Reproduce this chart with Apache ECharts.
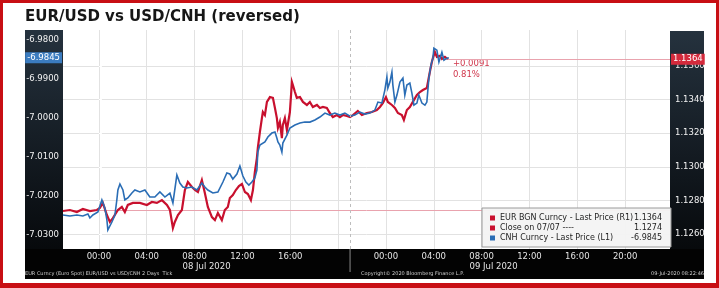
<!DOCTYPE html>
<html><head><meta charset="utf-8">
<script src="https://cdn.jsdelivr.net/npm/echarts@6/dist/echarts.min.js"></script>
<style>html,body{margin:0;padding:0;background:#fff}#c{width:719px;height:288px}</style>
</head><body><div id="c"></div>
<script>
// ---- DATA (hours relative to 08 Jul 2020 00:00) ----
const eurHours = [-3.0,-2.42,-1.84,-1.34,-0.75,-0.17,0.08,0.33,0.67,0.92,1.17,1.59,1.92,2.17,2.42,2.84,3.43,4.01,4.43,4.85,5.27,5.69,5.94,6.19,6.35,6.61,6.94,7.19,7.44,7.78,8.03,8.28,8.61,8.86,9.11,9.45,9.70,9.95,10.28,10.53,10.78,10.95,11.20,11.45,11.71,11.96,12.21,12.46,12.71,12.88,13.04,13.21,13.29,13.46,13.63,13.71,13.88,14.05,14.30,14.55,14.72,14.88,14.97,15.13,15.30,15.38,15.55,15.72,15.97,16.14,16.22,16.39,16.55,16.81,17.06,17.39,17.64,17.89,18.23,18.48,18.73,19.06,19.31,19.56,19.90,20.15,20.40,20.74,20.99,21.24,21.65,21.99,22.41,22.83,23.24,23.50,23.75,24.00,24.16,24.50,24.75,25.00,25.33,25.50,25.75,26.00,26.25,26.59,26.84,27.09,27.42,27.51,27.67,27.84,27.93,28.09,28.26,28.34,28.51,28.68,28.93,29.18];
const eurValues = [1.12737,1.12743,1.12731,1.12749,1.12737,1.12743,1.12755,1.12785,1.12713,1.12672,1.12695,1.12743,1.12761,1.12731,1.12773,1.12785,1.12785,1.12773,1.12791,1.12785,1.12802,1.12773,1.12743,1.12636,1.12672,1.12713,1.12743,1.12862,1.12910,1.12880,1.12862,1.12850,1.12921,1.12844,1.12761,1.12701,1.12683,1.12725,1.12683,1.12743,1.12761,1.12814,1.12832,1.12862,1.12886,1.12898,1.12850,1.12838,1.12802,1.12862,1.12969,1.13052,1.13112,1.13207,1.13290,1.13326,1.13308,1.13386,1.13415,1.13410,1.13350,1.13290,1.13231,1.13267,1.13171,1.13249,1.13290,1.13219,1.13326,1.13505,1.13487,1.13445,1.13410,1.13415,1.13386,1.13368,1.13386,1.13356,1.13368,1.13350,1.13356,1.13350,1.13320,1.13296,1.13308,1.13296,1.13308,1.13302,1.13296,1.13308,1.13332,1.13308,1.13320,1.13326,1.13338,1.13356,1.13380,1.13415,1.13386,1.13368,1.13350,1.13320,1.13308,1.13279,1.13338,1.13356,1.13386,1.13427,1.13445,1.13457,1.13469,1.13469,1.13564,1.13624,1.13648,1.13683,1.13654,1.13648,1.13660,1.13642,1.13654,1.13640];
const cnhHours = [-3.0,-2.42,-1.84,-1.34,-0.92,-0.75,-0.50,-0.08,0.25,0.50,0.67,0.75,1.09,1.34,1.50,1.59,1.76,1.92,2.01,2.17,2.42,2.76,3.01,3.43,3.85,4.26,4.68,5.10,5.52,5.94,6.19,6.52,6.77,7.02,7.36,7.78,8.19,8.61,8.86,9.11,9.53,9.95,10.37,10.70,10.95,11.20,11.54,11.79,12.04,12.29,12.54,12.79,13.04,13.21,13.29,13.46,13.88,14.13,14.46,14.72,14.88,14.97,15.13,15.30,15.38,15.72,15.97,16.39,16.81,17.22,17.64,18.06,18.48,18.90,19.31,19.73,20.15,20.57,20.99,21.40,21.82,22.24,22.66,23.08,23.33,23.66,23.91,24.08,24.16,24.33,24.50,24.58,24.75,24.92,25.17,25.42,25.58,25.75,26.00,26.17,26.34,26.59,26.75,27.01,27.26,27.42,27.59,27.76,27.93,28.01,28.26,28.43,28.68,28.85,29.10,29.26];
const cnhValues = [-7.02487,-7.02513,-7.02487,-7.02513,-7.02462,-7.02564,-7.02487,-7.02410,-7.02103,-7.02308,-7.02615,-7.02872,-7.02667,-7.02487,-7.02103,-7.01846,-7.01692,-7.01667,-7.01846,-7.02103,-7.02051,-7.01923,-7.01846,-7.01897,-7.01846,-7.02026,-7.02026,-7.01897,-7.02026,-7.01923,-7.02179,-7.01462,-7.01667,-7.01769,-7.01795,-7.01769,-7.01846,-7.01667,-7.01769,-7.01846,-7.01923,-7.01897,-7.01641,-7.01410,-7.01436,-7.01564,-7.01436,-7.01231,-7.01487,-7.01641,-7.01718,-7.01641,-7.01538,-7.01333,-7.00872,-7.00692,-7.00615,-7.00487,-7.00385,-7.00359,-7.00513,-7.00615,-7.00692,-7.00872,-7.00641,-7.00436,-7.00256,-7.00179,-7.00128,-7.00103,-7.00103,-7.00051,-6.99974,-6.99872,-6.99923,-6.99872,-6.99923,-6.99872,-6.99949,-6.99923,-6.99846,-6.99897,-6.99872,-6.99795,-6.99590,-6.99615,-6.99282,-6.98949,-6.99231,-6.99077,-6.98821,-6.99154,-6.99590,-6.99410,-6.99077,-6.98974,-6.99410,-6.99154,-6.99103,-6.99359,-6.99667,-6.99615,-6.99410,-6.99615,-6.99667,-6.99590,-6.98974,-6.98641,-6.98462,-6.98205,-6.98256,-6.98564,-6.98308,-6.98513,-6.98462,-6.98450];
const closeValue = 1.1274;
const gridHours = [0,4,8,12,16,20,24,28,32,36,40,44];
const timeLabelHours = [0,4,8,12,16,24,28,32,36,40,44];
const dateLabelHours = [9,33];
const dateLabels = ['08 Jul 2020','09 Jul 2020'];
const dayBreakHour = 21;
const leftTicks = [-7.03,-7.02,-7.01,-7.00,-6.99,-6.98];
const rightTicks = [1.126,1.128,1.130,1.132,1.134,1.136];
const seriesNames = ['EUR BGN Curncy - Last Price (R1)','Close on 07/07 ----','CNH Curncy - Last Price (L1)'];
const changeText = ['+0.0091','0.81%'];
const titleText = 'EUR/USD vs USD/CNH (reversed)';
const footnotes = ['EUR Curncy (Euro Spot) EUR/USD vs USD/CNH 2 Days  Tick','Copyright\u00A9 2020 Bloomberg Finance L.P.','09-Jul-2020 08:22:46'];

// ---- CHART ----
const FONT = 'DejaVu Sans';
const RED = '#c8102e', BLUE = '#2a6db5';
const xMin = -3, xMax = 47.75;
const lastEur = eurValues[eurValues.length-1];
const lastCnh = cnhValues[cnhValues.length-1];
const lastEurHour = eurHours[eurHours.length-1];
const lastCnhHour = cnhHours[cnhHours.length-1];
const legendValues = {};
legendValues[seriesNames[0]] = lastEur.toFixed(4);
legendValues[seriesNames[1]] = closeValue.toFixed(4);
legendValues[seriesNames[2]] = lastCnh.toFixed(4);

const panelFill = {type:'linear',x:0,y:0,x2:0,y2:1,colorStops:[{offset:0,color:'#25323e'},{offset:0.6,color:'#10161c'},{offset:1,color:'#030405'}]};

const chart = echarts.init(document.getElementById('c'), null, {renderer:'canvas'});
chart.setOption({
  animation:false,
  backgroundColor:'#fff',
  title:{text:titleText,left:25,top:10,padding:0,textStyle:{fontFamily:FONT,fontSize:15,fontWeight:'bold',color:'#161616'}},
  grid:{left:63,right:49,top:30,bottom:39,show:true,backgroundColor:'#fff',borderWidth:0},
  xAxis:[
    {type:'value',min:xMin,max:xMax,position:'bottom',axisLine:{show:false},
     axisTick:{show:false,customValues:gridHours},
     splitLine:{show:true,lineStyle:{color:'#e2e2e2',width:1}},
     axisLabel:{customValues:timeLabelHours,margin:3,color:'#e4e4e4',fontFamily:FONT,fontSize:8.5,
       formatter:v=>{const h=((v%24)+24)%24;return (h<10?'0':'')+h+':00';}}},
    {type:'value',min:xMin,max:xMax,position:'bottom',axisLine:{show:false},axisTick:{show:false},splitLine:{show:false},
     axisLabel:{customValues:dateLabelHours,margin:13,color:'#e4e4e4',fontFamily:FONT,fontSize:8.5,
       formatter:v=>dateLabels[dateLabelHours.indexOf(v)]||''}}
  ],
  yAxis:[
    {type:'value',min:-7.0336,max:-6.9774,position:'left',axisLine:{show:false},
     axisTick:{show:true,customValues:leftTicks,length:3,lineStyle:{color:'#ffffff'}},
     splitLine:{show:false},
     axisLabel:{customValues:leftTicks,formatter:v=>v.toFixed(4),color:'#f2f2f2',fontFamily:FONT,fontSize:8.5,margin:4}},
    {type:'value',min:1.12511,max:1.13814,position:'right',axisLine:{show:false},
     axisTick:{show:true,customValues:rightTicks,length:3,lineStyle:{color:'#ffffff'}},
     splitLine:{show:true,lineStyle:{color:'#e2e2e2',width:1}},
     axisLabel:{customValues:rightTicks,formatter:v=>v.toFixed(4),color:'#f2f2f2',fontFamily:FONT,fontSize:8.5,margin:5}}
  ],
  legend:{orient:'vertical',left:482,top:208,padding:[5,9,4,8],itemGap:0,itemWidth:5,itemHeight:5,icon:'rect',
    selectedMode:false,backgroundColor:'rgba(244,244,244,0.96)',borderColor:'#9a9a9a',borderWidth:1,
    data:[{name:seriesNames[0],itemStyle:{color:RED}},{name:seriesNames[1],itemStyle:{color:RED}},{name:seriesNames[2],itemStyle:{color:BLUE}}],
    formatter:name=>'{n|'+name+'}{v|'+legendValues[name]+'}',
    textStyle:{fontFamily:FONT,fontSize:8,color:'#1e1e1e',lineHeight:10,
      rich:{n:{width:134,fontFamily:FONT,fontSize:8,color:'#1e1e1e',lineHeight:10},
            v:{width:28,align:'right',fontFamily:FONT,fontSize:8,color:'#1e1e1e',lineHeight:10}}}},
  series:[
    {name:seriesNames[1],type:'line',xAxisIndex:0,yAxisIndex:1,symbol:'none',z:2,silent:true,
     data:[[xMin,closeValue],[xMax,closeValue]],lineStyle:{color:'#e9a3ae',width:1},itemStyle:{color:RED},
     markLine:{silent:true,symbol:'none',label:{show:false},
       lineStyle:{color:'#bdbdbd',width:1,type:[3,3]},data:[{xAxis:dayBreakHour}]}},
    {name:seriesNames[0],type:'line',xAxisIndex:0,yAxisIndex:1,symbol:'none',showSymbol:false,z:3,
     data:eurHours.map((h,i)=>[h,eurValues[i]]),lineStyle:{color:RED,width:2.2,join:'miter'},itemStyle:{color:RED},
     endLabel:{show:true,formatter:changeText.join('\n'),color:'#d0374c',fontFamily:FONT,fontSize:8.5,lineHeight:11,offset:[-3,10.5]},
     markLine:{silent:true,symbol:'none',lineStyle:{color:'#e9a3ae',width:1,type:'solid'},
       label:{show:true,position:'end',distance:1,formatter:lastEur.toFixed(4),color:'#fff',backgroundColor:'#d42a3c',
              padding:[1,2,1,2],fontFamily:FONT,fontSize:8.5},
       data:[[{coord:[lastEurHour,lastEur]},{coord:[xMax,lastEur]}]]}},
    {name:seriesNames[2],type:'line',xAxisIndex:0,yAxisIndex:0,symbol:'none',showSymbol:false,z:4,
     data:cnhHours.map((h,i)=>[h,cnhValues[i]]),lineStyle:{color:BLUE,width:1.6,join:'miter'},itemStyle:{color:BLUE},
     markLine:{silent:true,symbol:'none',lineStyle:{color:'rgba(0,0,0,0)',width:1,type:'solid'},
       label:{show:true,position:'start',distance:1,formatter:lastCnh.toFixed(4),color:'#fff',backgroundColor:'#3b7cc0',
              padding:[1,2,1,2],fontFamily:FONT,fontSize:8.5},
       data:[[{coord:[xMin,lastCnh]},{coord:[lastCnhHour,lastCnh]}]]}}
  ],
  graphic:[
    {id:'lp',type:'rect',z:-1,silent:true,shape:{x:25,y:30,width:38,height:249},style:{fill:panelFill}},
    {id:'rp',type:'rect',z:-1,silent:true,shape:{x:670,y:31,width:34,height:248},style:{fill:panelFill}},
    {id:'bs',type:'rect',z:-1,silent:true,shape:{x:25,y:249,width:679,height:30},style:{fill:'#030303'}},
    {id:'f1',type:'text',z:5,silent:true,x:25,y:274,style:{text:footnotes[0],fill:'#cfcfcf',font:'5px "DejaVu Sans"',textVerticalAlign:'middle'}},
    {id:'f2',type:'text',z:5,silent:true,x:361,y:274,style:{text:footnotes[1],fill:'#cfcfcf',font:'5px "DejaVu Sans"',textVerticalAlign:'middle'}},
    {id:'f3',type:'text',z:5,silent:true,x:704,y:274,style:{text:footnotes[2],fill:'#cfcfcf',font:'5px "DejaVu Sans"',textAlign:'right',textVerticalAlign:'middle'}},
    {id:'b1',type:'rect',z:10,silent:true,shape:{x:0,y:0,width:3,height:288},style:{fill:'#c80f14'}},
    {id:'b2',type:'rect',z:10,silent:true,shape:{x:716,y:0,width:3,height:288},style:{fill:'#c80f14'}},
    {id:'b3',type:'rect',z:10,silent:true,shape:{x:0,y:0,width:719,height:3},style:{fill:'#c80f14'}},
    {id:'b4',type:'rect',z:10,silent:true,shape:{x:0,y:283,width:719,height:5},style:{fill:'#c80f14'}}
  ]
});
// day separator continuing into the axis strip
const sepX = chart.convertToPixel({xAxisIndex:0}, dayBreakHour);
const stripTop = chart.convertToPixel({yAxisIndex:0}, -7.0336);
chart.setOption({graphic:[{id:'sep',type:'line',z:1,silent:true,shape:{x1:sepX,y1:stripTop,x2:sepX,y2:stripTop+23},style:{stroke:'#8a8a8a',lineWidth:1}}]});
</script></body></html>
